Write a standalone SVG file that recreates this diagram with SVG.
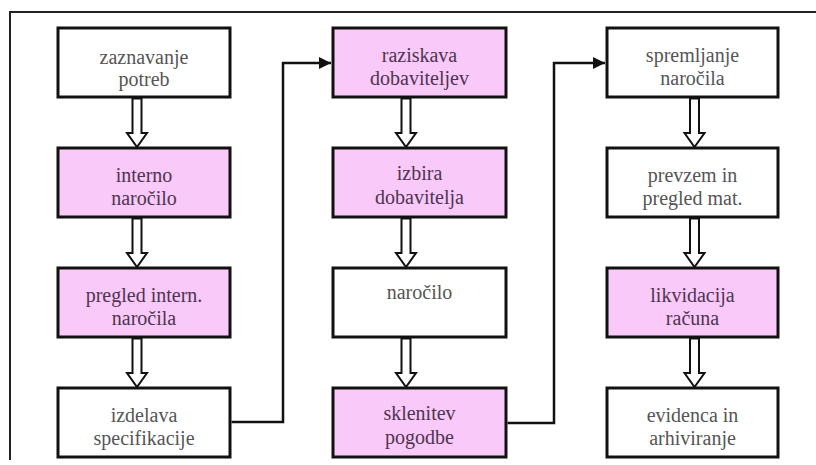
<svg xmlns="http://www.w3.org/2000/svg" width="816" height="465" viewBox="0 0 816 465" font-family="Liberation Serif, DejaVu Serif, serif">
<style>
.box{stroke:#111;stroke-width:3;fill:#fff}
.pink{fill:#f9c9f9}
.t{font-size:20px;fill:#555;text-anchor:middle}
.tp{fill:#4e3450}
.ha{fill:#fff;stroke:#111;stroke-width:2;stroke-linejoin:miter}
.ln{fill:none;stroke:#111;stroke-width:2.5}
</style>
<defs>
<marker id="ah" viewBox="0 0 10 10" refX="10" refY="5" markerWidth="5" markerHeight="5" orient="auto" markerUnits="strokeWidth">
<path d="M0,0 L10,5 L0,10 z" fill="#111"/>
</marker>
</defs>
<rect width="816" height="465" fill="#fff"/>
<g id="frame" fill="none" stroke="#222" stroke-width="2">
<path d="M10,460 L10,12 L816,12"/>
</g>
<g id="n1"><rect class="box" x="58" y="28" width="172" height="69"/><text class="t" x="144" y="64" font-family="Liberation Serif, serif">zaznavanje</text><text class="t" x="144" y="86">potreb</text></g>
<g id="n2"><rect class="box pink" x="58" y="148" width="172" height="69"/><text class="t tp" x="144" y="182">interno</text><text class="t tp" x="144" y="205">naročilo</text></g>
<g id="n3"><rect class="box pink" x="58" y="268" width="172" height="69"/><text class="t tp" x="144" y="302">pregled intern.</text><text class="t tp" x="144" y="325">naročila</text></g>
<g id="n4"><rect class="box" x="58" y="388" width="172" height="69"/><text class="t" x="144" y="422">izdelava</text><text class="t" x="144" y="445">specifikacije</text></g>
<g id="n5"><rect class="box pink" x="333" y="28" width="173" height="69"/><text class="t tp" x="419.5" y="62">raziskava</text><text class="t tp" x="419.5" y="85">dobaviteljev</text></g>
<g id="n6"><rect class="box pink" x="333" y="148" width="173" height="69"/><text class="t tp" x="419.5" y="180">izbira</text><text class="t tp" x="419.5" y="204">dobavitelja</text></g>
<g id="n7"><rect class="box" x="333" y="268" width="173" height="69"/><text class="t" x="419.5" y="299">naročilo</text></g>
<g id="n8"><rect class="box pink" x="333" y="388" width="173" height="69"/><text class="t tp" x="419.5" y="420">sklenitev</text><text class="t tp" x="419.5" y="444">pogodbe</text></g>
<g id="n9"><rect class="box" x="607" y="28" width="171" height="69"/><text class="t" x="692.5" y="62">spremljanje</text><text class="t" x="692.5" y="85">naročila</text></g>
<g id="n10"><rect class="box" x="607" y="148" width="171" height="69"/><text class="t" x="692.5" y="182">prevzem in</text><text class="t" x="692.5" y="205">pregled mat.</text></g>
<g id="n11"><rect class="box pink" x="607" y="268" width="171" height="69"/><text class="t tp" x="692.5" y="302">likvidacija</text><text class="t tp" x="692.5" y="325">računa</text></g>
<g id="n12"><rect class="box" x="607" y="388" width="171" height="69"/><text class="t" x="692.5" y="422">evidenca in</text><text class="t" x="692.5" y="445">arhiviranje</text></g>
<g id="connectors">
<polygon class="ha" points="132.5,98.5 141.5,98.5 141.5,133 147,133 137,147 127,133 132.5,133"/>
<polygon class="ha" points="132.5,218.5 141.5,218.5 141.5,253 147,253 137,267 127,253 132.5,253"/>
<polygon class="ha" points="132.5,338.5 141.5,338.5 141.5,373 147,373 137,387 127,373 132.5,373"/>
<polygon class="ha" points="401.5,98.5 410.5,98.5 410.5,133 416,133 406,147 396,133 401.5,133"/>
<polygon class="ha" points="401.5,218.5 410.5,218.5 410.5,253 416,253 406,267 396,253 401.5,253"/>
<polygon class="ha" points="401.5,338.5 410.5,338.5 410.5,373 416,373 406,387 396,373 401.5,373"/>
<polygon class="ha" points="690,98.5 699,98.5 699,133 704.5,133 694.5,147 684.5,133 690,133"/>
<polygon class="ha" points="690,218.5 699,218.5 699,253 704.5,253 694.5,267 684.5,253 690,253"/>
<polygon class="ha" points="690,338.5 699,338.5 699,373 704.5,373 694.5,387 684.5,373 690,373"/>
<path class="ln" d="M231.5,422 L283,422 L283,63 L331,63" marker-end="url(#ah)"/>
<path class="ln" d="M507.5,423 L554,423 L554,63 L605,63" marker-end="url(#ah)"/>
</g>
</svg>
